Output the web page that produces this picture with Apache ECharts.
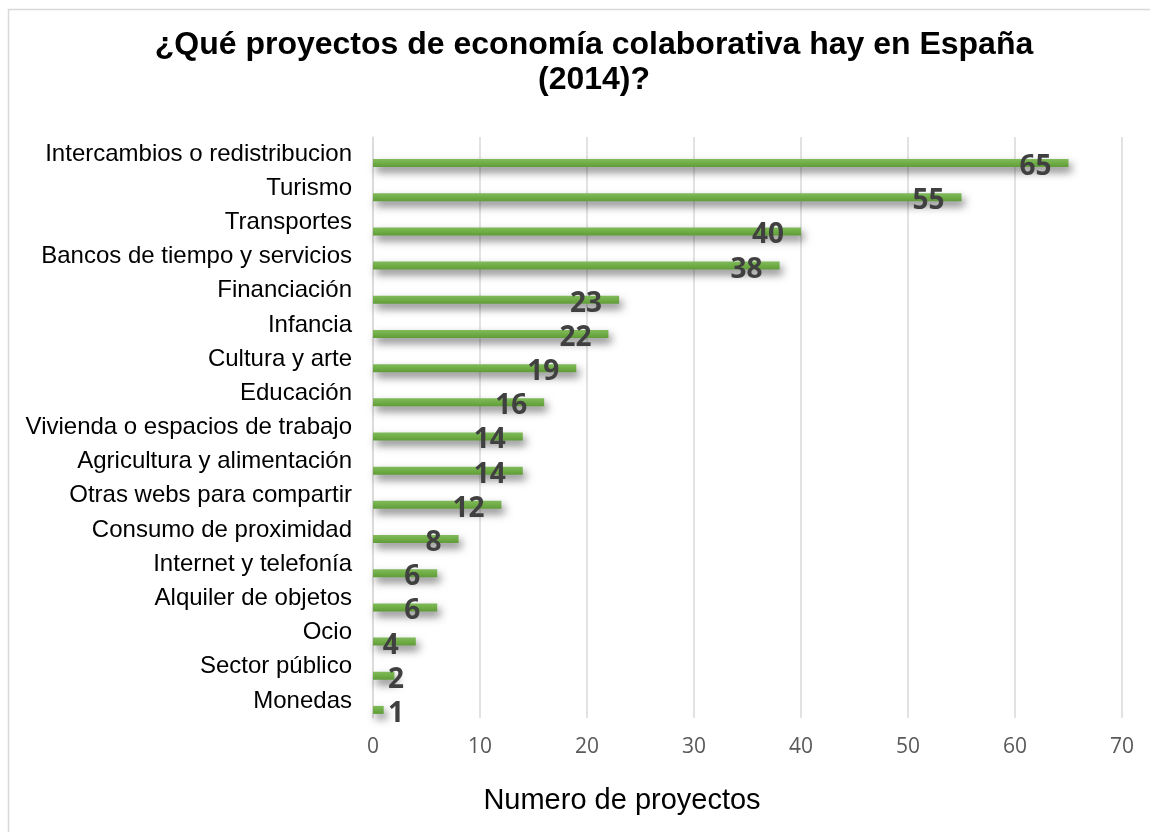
<!DOCTYPE html>
<html>
<head>
<meta charset="utf-8">
<script src="https://cdn.jsdelivr.net/npm/echarts@6/dist/echarts.min.js"></script>
<style>html,body{margin:0;padding:0;background:#fff;}#c{width:1150px;height:832px;}</style>
</head>
<body>
<div id="c"></div>
<script>
const categories = ["Intercambios o redistribucion","Turismo","Transportes","Bancos de tiempo y servicios","Financiación","Infancia","Cultura y arte","Educación","Vivienda o espacios de trabajo","Agricultura y alimentación","Otras webs para compartir","Consumo de proximidad","Internet y telefonía","Alquiler de objetos","Ocio","Sector público","Monedas"];
const values = [65,55,40,38,23,22,19,16,14,14,12,8,6,6,4,2,1];
const xTicks = [0,10,20,30,40,50,60,70];

const chart = echarts.init(document.getElementById('c'));
const green = new echarts.graphic.LinearGradient(0,0,0,1,[{offset:0,color:'#7fbb5a'},{offset:0.5,color:'#70ad47'},{offset:1,color:'#5f9c38'}]);
const barData = values.map(v => {
  const small = v < 4;
  return {
    value: v,
    label: small ? {position:'insideLeft', distance:0, offset:[15,4]} : {position:'insideRight', distance:0, offset:[-17,4]}
  };
});
chart.setOption({
  animation:false,
  graphic:[{type:'rect', shape:{x:8.5,y:9.5,width:1200,height:900}, style:{fill:'none',stroke:'#d9d9d9',lineWidth:1.5}, silent:true}],
  title:[
    {text:'¿Qué proyectos de economía colaborativa hay en España\n(2014)?', left:589, top:23, textAlign:'center',
     textStyle:{fontFamily:'Liberation Sans', fontWeight:'bold', fontSize:32, color:'#000', lineHeight:35}},
    {text:'Numero de proyectos', left:617, top:781, textAlign:'center',
     textStyle:{fontFamily:'Liberation Sans', fontWeight:'normal', fontSize:29, color:'#000'}}
  ],
  grid:{left:373, right:28, top:137, bottom:114, containLabel:false},
  xAxis:{type:'value', min:0, max:70, interval:10,
    axisLine:{show:false}, axisTick:{show:false},
    splitLine:{lineStyle:{color:'#d9d9d9', width:1.5}},
    axisLabel:{fontFamily:'Open Sans', fontSize:21, color:'#595959', margin:19,
      formatter: v => xTicks.includes(v) ? String(v) : ''}},
  yAxis:{type:'category', data:categories, inverse:true,
    axisLine:{show:true, lineStyle:{color:'#d9d9d9', width:1.5}}, axisTick:{show:false},
    axisLabel:{fontFamily:'Liberation Sans', fontSize:24, color:'#000', margin:21}},
  series:[
    {type:'bar', data:values.map(()=>null), barWidth:8, barGap:'125%'},
    {type:'bar', data:barData, barWidth:8, barGap:'125%',
     itemStyle:{color:green, shadowColor:'rgba(0,0,0,0.5)', shadowBlur:8, shadowOffsetX:3, shadowOffsetY:5},
     label:{show:true, fontFamily:'Open Sans', fontWeight:'bold', fontSize:28, color:'#404040'}}
  ]
});
</script>
</body>
</html>
